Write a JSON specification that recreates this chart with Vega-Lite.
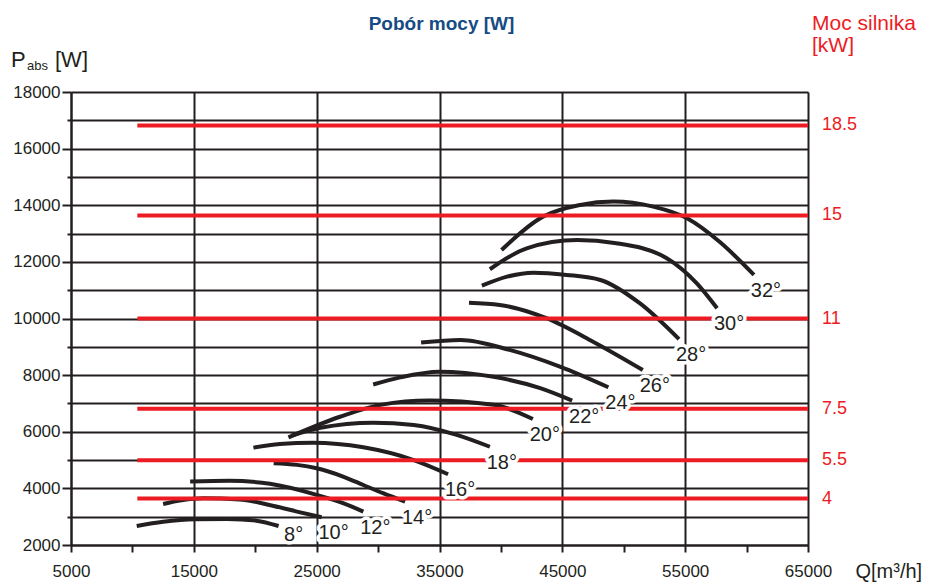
{
  "$schema": "https://vega.github.io/schema/vega-lite/v6.json",
  "width": 737,
  "height": 453,
  "autosize": {"type": "none"},
  "padding": {"left": 71, "top": 92, "right": 127, "bottom": 40},
  "background": "white",
  "config": {
    "view": {"stroke": null},
    "font": "Liberation Sans",
    "axis": {
      "grid": true,
      "gridColor": "#231f20",
      "gridWidth": 2,
      "domainColor": "#231f20",
      "domainWidth": 2,
      "tickColor": "#231f20",
      "tickWidth": 2,
      "labelFontSize": 17,
      "labelColor": "#231f20",
      "labelOverlap": false,
      "labelFlush": false,
      "format": "d"
    },
    "axisX": {
      "tickCount": 12,
      "tickSize": 7,
      "labelPadding": 11,
      "labelExpr": "datum.value % 10000 == 5000 ? datum.label : ''",
      "titleFontSize": 20,
      "titleFontWeight": "normal",
      "titleColor": "#231f20",
      "titleAlign": "left",
      "titleBaseline": "alphabetic",
      "titleX": 784,
      "titleY": 32
    },
    "axisY": {
      "tickCount": 16,
      "tickSize": 9,
      "labelPadding": 2,
      "labelExpr": "datum.value % 2000 == 0 ? datum.label : ''"
    }
  },
  "datasets": {
    "curves": [
      {"angle": "8°", "Q": 10350, "P": 2670}, {"angle": "8°", "Q": 12500, "P": 2820}, {"angle": "8°", "Q": 15100, "P": 2910},
      {"angle": "8°", "Q": 17700, "P": 2920}, {"angle": "8°", "Q": 20100, "P": 2860}, {"angle": "8°", "Q": 21900, "P": 2670},
      {"angle": "10°", "Q": 12500, "P": 3450}, {"angle": "10°", "Q": 14000, "P": 3580}, {"angle": "10°", "Q": 15800, "P": 3650},
      {"angle": "10°", "Q": 18700, "P": 3610}, {"angle": "10°", "Q": 21500, "P": 3380}, {"angle": "10°", "Q": 23400, "P": 3180},
      {"angle": "10°", "Q": 25400, "P": 2980},
      {"angle": "12°", "Q": 14700, "P": 4240}, {"angle": "12°", "Q": 17900, "P": 4270}, {"angle": "12°", "Q": 21200, "P": 4160},
      {"angle": "12°", "Q": 25000, "P": 3770}, {"angle": "12°", "Q": 27200, "P": 3470}, {"angle": "12°", "Q": 28800, "P": 3180},
      {"angle": "14°", "Q": 21500, "P": 4890}, {"angle": "14°", "Q": 23400, "P": 4830}, {"angle": "14°", "Q": 25000, "P": 4710},
      {"angle": "14°", "Q": 27200, "P": 4410}, {"angle": "14°", "Q": 28800, "P": 4120}, {"angle": "14°", "Q": 30400, "P": 3830},
      {"angle": "14°", "Q": 32200, "P": 3530},
      {"angle": "16°", "Q": 19850, "P": 5440}, {"angle": "16°", "Q": 22000, "P": 5570}, {"angle": "16°", "Q": 24700, "P": 5610},
      {"angle": "16°", "Q": 28800, "P": 5450}, {"angle": "16°", "Q": 32900, "P": 5000}, {"angle": "16°", "Q": 35700, "P": 4500},
      {"angle": "18°", "Q": 23000, "P": 5870}, {"angle": "18°", "Q": 25300, "P": 6140}, {"angle": "18°", "Q": 29600, "P": 6320},
      {"angle": "18°", "Q": 32900, "P": 6240}, {"angle": "18°", "Q": 36400, "P": 5890}, {"angle": "18°", "Q": 39100, "P": 5470},
      {"angle": "20°", "Q": 22700, "P": 5800}, {"angle": "20°", "Q": 26900, "P": 6530}, {"angle": "20°", "Q": 30200, "P": 6950},
      {"angle": "20°", "Q": 34200, "P": 7100}, {"angle": "20°", "Q": 39400, "P": 6950}, {"angle": "20°", "Q": 42600, "P": 6450},
      {"angle": "22°", "Q": 29600, "P": 7670}, {"angle": "22°", "Q": 31800, "P": 7920}, {"angle": "22°", "Q": 35000, "P": 8120},
      {"angle": "22°", "Q": 39400, "P": 7940}, {"angle": "22°", "Q": 43200, "P": 7540}, {"angle": "22°", "Q": 45800, "P": 7100},
      {"angle": "24°", "Q": 33500, "P": 9150}, {"angle": "24°", "Q": 36700, "P": 9240}, {"angle": "24°", "Q": 40700, "P": 8890},
      {"angle": "24°", "Q": 44800, "P": 8300}, {"angle": "24°", "Q": 48750, "P": 7570},
      {"angle": "26°", "Q": 37400, "P": 10560}, {"angle": "26°", "Q": 39900, "P": 10480}, {"angle": "26°", "Q": 43700, "P": 10010},
      {"angle": "26°", "Q": 47500, "P": 9180}, {"angle": "26°", "Q": 51550, "P": 8180},
      {"angle": "28°", "Q": 38450, "P": 11160}, {"angle": "28°", "Q": 40500, "P": 11480}, {"angle": "28°", "Q": 42650, "P": 11620},
      {"angle": "28°", "Q": 45350, "P": 11540}, {"angle": "28°", "Q": 48100, "P": 11360}, {"angle": "28°", "Q": 51300, "P": 10540},
      {"angle": "28°", "Q": 54500, "P": 9270},
      {"angle": "30°", "Q": 39100, "P": 11740}, {"angle": "30°", "Q": 42100, "P": 12480}, {"angle": "30°", "Q": 46200, "P": 12770},
      {"angle": "30°", "Q": 49400, "P": 12660}, {"angle": "30°", "Q": 53500, "P": 12130}, {"angle": "30°", "Q": 55950, "P": 11240},
      {"angle": "30°", "Q": 57600, "P": 10360},
      {"angle": "32°", "Q": 40050, "P": 12420}, {"angle": "32°", "Q": 43450, "P": 13600}, {"angle": "32°", "Q": 46450, "P": 14010},
      {"angle": "32°", "Q": 49150, "P": 14130}, {"angle": "32°", "Q": 52400, "P": 13950}, {"angle": "32°", "Q": 55150, "P": 13540},
      {"angle": "32°", "Q": 57800, "P": 12710}, {"angle": "32°", "Q": 60600, "P": 11540}
    ],
    "motors": [
      {"kW": "18.5", "P": 16820},
      {"kW": "15", "P": 13640},
      {"kW": "11", "P": 10000},
      {"kW": "7.5", "P": 6810},
      {"kW": "5.5", "P": 4990},
      {"kW": "4", "P": 3640}
    ]
  },
  "layer": [
    {
      "data": {"name": "curves"},
      "mark": {"type": "line", "interpolate": "monotone", "stroke": "#231f20", "strokeWidth": 4, "strokeCap": "butt"},
      "encoding": {
        "x": {
          "field": "Q", "type": "quantitative",
          "scale": {"domain": [5000, 65000], "nice": false, "zero": false},
          "axis": {
            "title": "Q[m³/h]",
            "gridOpacity": {"condition": {"test": "datum.value % 10000 == 0", "value": 0}, "value": 1}
          }
        },
        "y": {
          "field": "P", "type": "quantitative",
          "scale": {"domain": [2000, 18000], "nice": false, "zero": false},
          "axis": {
            "title": null,
            "tickSize": {"condition": {"test": "datum.value % 2000 != 0", "value": 4}, "value": 9}
          }
        },
        "detail": {"field": "angle"}
      }
    },
    {
      "data": {"name": "motors"},
      "mark": {"type": "rule", "stroke": "#ed1c24", "strokeWidth": 4},
      "encoding": {
        "x": {"datum": 10400, "type": "quantitative"},
        "x2": {"datum": 65000},
        "y": {"field": "P", "type": "quantitative"}
      }
    },
    {
      "data": {"name": "curves"},
      "transform": [
        {"joinaggregate": [{"op": "max", "field": "Q", "as": "Qend"}], "groupby": ["angle"]},
        {"filter": "datum.Q === datum.Qend && datum.angle !== '8°'"}
      ],
      "mark": {"type": "text", "fontSize": 20, "align": "center", "baseline": "middle", "dx": 12, "dy": 16,
               "fill": "white", "stroke": "white", "strokeWidth": 7, "strokeJoin": "round"},
      "encoding": {
        "x": {"field": "Q", "type": "quantitative"},
        "y": {"field": "P", "type": "quantitative"},
        "text": {"field": "angle"}
      }
    },
    {
      "data": {"name": "curves"},
      "transform": [
        {"joinaggregate": [{"op": "max", "field": "Q", "as": "Qend"}], "groupby": ["angle"]},
        {"filter": "datum.Q === datum.Qend && datum.angle === '8°'"}
      ],
      "mark": {"type": "text", "fontSize": 20, "align": "center", "baseline": "middle", "dx": 15, "dy": 9,
               "fill": "white", "stroke": "white", "strokeWidth": 7, "strokeJoin": "round"},
      "encoding": {
        "x": {"field": "Q", "type": "quantitative"},
        "y": {"field": "P", "type": "quantitative"},
        "text": {"field": "angle"}
      }
    },
    {
      "data": {"name": "curves"},
      "transform": [
        {"joinaggregate": [{"op": "max", "field": "Q", "as": "Qend"}], "groupby": ["angle"]},
        {"filter": "datum.Q === datum.Qend && datum.angle !== '8°'"}
      ],
      "mark": {"type": "text", "fontSize": 20, "align": "center", "baseline": "middle", "dx": 12, "dy": 16, "fill": "#231f20"},
      "encoding": {
        "x": {"field": "Q", "type": "quantitative"},
        "y": {"field": "P", "type": "quantitative"},
        "text": {"field": "angle"}
      }
    },
    {
      "data": {"name": "curves"},
      "transform": [
        {"joinaggregate": [{"op": "max", "field": "Q", "as": "Qend"}], "groupby": ["angle"]},
        {"filter": "datum.Q === datum.Qend && datum.angle === '8°'"}
      ],
      "mark": {"type": "text", "fontSize": 20, "align": "center", "baseline": "middle", "dx": 15, "dy": 9, "fill": "#231f20"},
      "encoding": {
        "x": {"field": "Q", "type": "quantitative"},
        "y": {"field": "P", "type": "quantitative"},
        "text": {"field": "angle"}
      }
    },
    {
      "data": {"name": "motors"},
      "mark": {"type": "text", "fontSize": 18, "align": "left", "baseline": "middle", "dx": 14, "fill": "#ed1c24"},
      "encoding": {
        "x": {"datum": 65000, "type": "quantitative"},
        "y": {"field": "P", "type": "quantitative"},
        "text": {"field": "kW"}
      }
    },
    {
      "data": {"values": [{}]},
      "mark": {"type": "text", "text": "Pobór mocy [W]", "fontSize": 19, "fontWeight": "bold",
               "align": "center", "baseline": "alphabetic", "dx": 2, "dy": -62, "fill": "#164b84"},
      "encoding": {
        "x": {"datum": 35000, "type": "quantitative"},
        "y": {"datum": 18000, "type": "quantitative"}
      }
    },
    {
      "data": {"values": [{}]},
      "mark": {"type": "text", "text": "P", "fontSize": 22, "align": "left", "baseline": "alphabetic", "dx": -60, "dy": -25, "fill": "#231f20"},
      "encoding": {
        "x": {"datum": 5000, "type": "quantitative"},
        "y": {"datum": 18000, "type": "quantitative"}
      }
    },
    {
      "data": {"values": [{}]},
      "mark": {"type": "text", "text": "abs", "fontSize": 13, "align": "left", "baseline": "alphabetic", "dx": -44, "dy": -22, "fill": "#231f20"},
      "encoding": {
        "x": {"datum": 5000, "type": "quantitative"},
        "y": {"datum": 18000, "type": "quantitative"}
      }
    },
    {
      "data": {"values": [{}]},
      "mark": {"type": "text", "text": "[W]", "fontSize": 22, "align": "left", "baseline": "alphabetic", "dx": -16, "dy": -25, "fill": "#231f20"},
      "encoding": {
        "x": {"datum": 5000, "type": "quantitative"},
        "y": {"datum": 18000, "type": "quantitative"}
      }
    },
    {
      "data": {"values": [{}]},
      "mark": {"type": "text", "text": ["Moc silnika", "[kW]"], "fontSize": 21, "lineHeight": 22, "align": "left", "baseline": "alphabetic",
               "dx": 4, "dy": -62, "fill": "#ed1c24"},
      "encoding": {
        "x": {"datum": 65000, "type": "quantitative"},
        "y": {"datum": 18000, "type": "quantitative"}
      }
    }
  ]
}
